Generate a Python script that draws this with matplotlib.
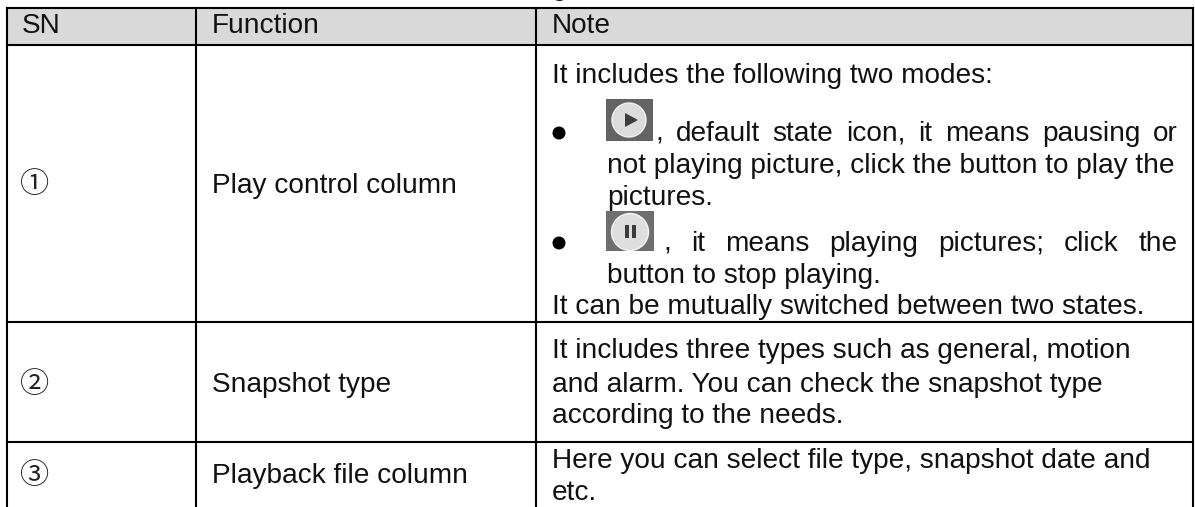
import matplotlib
matplotlib.use("Agg")
from matplotlib import pyplot as plt
from matplotlib.patches import Circle, Rectangle, Polygon

W, H = 1195, 507

col_x = [7, 196, 536, 1193]
row_y = [8, 45, 322, 442]
header = ["SN", "Function", "Note"]
header_x = [22, 212, 552]
sn = ["\u2460", "\u2461", "\u2462"]
sn_y = [185, 385, 476]
functions = ["Play control column", "Snapshot type", "Playback file column"]
function_y = [193, 392, 483]

# (x, baseline y, text)
note_lines = [
    (552, 83, "It includes the following two modes:"),
    (607, 173, "not playing picture, click the button to play the"),
    (607, 205, "pictures."),
    (607, 283, "button to stop playing."),
    (552, 314, "It can be mutually switched between two states."),
    (552, 358, "It includes three types such as general, motion"),
    (552, 392, "and alarm. You can check the snapshot type"),
    (552, 423, "according to the needs."),
    (552, 468, "Here you can select file type, snapshot date and"),
    (552, 500, "etc."),
]
# justified lines: x start, x end, baseline, words
just_lines = [
    (655, 1178, 141, [",", "default", "state", "icon,", "it", "means", "pausing", "or"]),
    (663, 1178, 251, [",", "it", "means", "playing", "pictures;", "click", "the"]),
]

plt.rcParams["font.family"] = ["Liberation Sans", "Noto Sans CJK JP", "DejaVu Sans"]
fs = 20.15
ink = "#111111"

fig = plt.figure(figsize=(W / 100, H / 100), dpi=100)
ax = fig.add_axes([0, 0, 1, 1])
ax.set_xlim(0, W)
ax.set_ylim(H, 0)
ax.axis("off")

ax.add_patch(Rectangle((col_x[0], row_y[0]), col_x[-1] - col_x[0], row_y[1] - row_y[0], fc="#d9d9d9", ec="none"))
for x in col_x:
    ax.plot([x, x], [row_y[0], H], color="black", lw=1.5, solid_capstyle="projecting")
for y in row_y:
    ax.plot([col_x[0], col_x[-1]], [y, y], color="black", lw=1.5, solid_capstyle="projecting")

# descender of the caption cut off by the top edge
ax.text(552, -5, "g", fontsize=fs, va="baseline", color=ink, clip_on=True)

for x, label in zip(header_x, header):
    ax.text(x, 33, label, fontsize=fs, va="baseline", color=ink)

for s, y in zip(sn, sn_y):
    ax.text(35, y, s, fontsize=21, va="center", ha="center", color="#222222")
for f, y in zip(functions, function_y):
    ax.text(212, y, f, fontsize=fs, va="baseline", color=ink)

for x, y, t in note_lines:
    ax.text(x, y, t, fontsize=fs, va="baseline", color=ink)

r = fig.canvas.get_renderer()
for x0, x1, y, words in just_lines:
    arts = [ax.text(0, y, w, fontsize=fs, va="baseline", color=ink) for w in words]
    widths = [a.get_window_extent(r).width for a in arts]
    gap = (x1 - x0 - sum(widths)) / (len(words) - 1)
    x = x0
    for a, wd in zip(arts, widths):
        a.set_x(x)
        x += wd + gap

# bullets
for y in [133, 243]:
    ax.add_patch(Circle((559, y), 6.5, fc="black", ec="none"))

# play icon
ax.add_patch(Rectangle((606, 99), 47, 42, fc="#636363", ec="none", zorder=3))
ax.add_patch(Circle((629, 120), 17, fc="#dcdcdc", ec="#f2f2f2", lw=1, zorder=3))
ax.add_patch(Polygon([[625, 113], [625, 127], [638, 120]], fc="#3c3c3c", ec="none", zorder=3))

# pause icon
ax.add_patch(Rectangle((606, 211), 48, 40, fc="#6e6e6e", ec="none", zorder=3))
ax.add_patch(Circle((630, 232), 18.5, fc="#dedede", ec="#f4f4f4", lw=1, zorder=3))
ax.add_patch(Rectangle((625, 225), 4.5, 13, fc="#3c3c3c", ec="none", zorder=3))
ax.add_patch(Rectangle((632, 225), 4.5, 13, fc="#3c3c3c", ec="none", zorder=3))

fig.savefig("out.png", dpi=100)
